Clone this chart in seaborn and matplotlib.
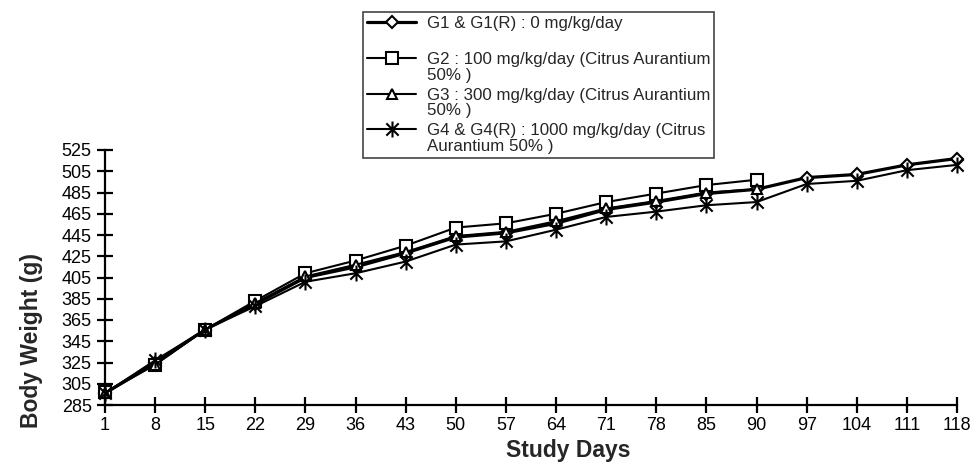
import numpy as np
import pandas as pd
import seaborn as sns
import matplotlib.pyplot as plt
from matplotlib.path import Path

# dados
days = [1, 8, 15, 22, 29, 36, 43, 50, 57, 64, 71, 78, 85, 90, 97, 104, 111, 118]
g1 = [296, 325, 356, 380, 405, 415, 428, 443, 447, 456, 469, 476, 484, 488, 499, 502, 511, 517]
g2 = [297, 323, 356, 383, 409, 421, 435, 452, 456, 465, 476, 484, 492, 497]
g3 = [296, 323, 356, 381, 406, 417, 429, 444, 448, 458, 470, 477, 485, 488]
g4 = [296, 327, 356, 378, 401, 409, 420, 436, 439, 450, 462, 467, 473, 476, 493, 496, 506, 511]

labels = ['G1 & G1(R) : 0 mg/kg/day\n ',
          'G2 : 100 mg/kg/day (Citrus Aurantium\n50% )',
          'G3 : 300 mg/kg/day (Citrus Aurantium\n50% )',
          'G4 & G4(R) : 1000 mg/kg/day (Citrus\nAurantium 50% )']
series = [g1, g2, g3, g4]

sns.set_theme(style='white')
plt.rcParams['font.family'] = ['Liberation Sans', 'DejaVu Sans']

# marcador estrela do Excel (X com traco vertical)
star = Path([(-1, -1), (1, 1), (-1, 1), (1, -1), (0, -1.3), (0, 1.3)],
            [Path.MOVETO, Path.LINETO, Path.MOVETO, Path.LINETO, Path.MOVETO, Path.LINETO])

styles = [
    dict(marker='D', markersize=6.5, markerfacecolor='white', linewidth=2.3),
    dict(marker='s', markersize=8.5, markerfacecolor='white', linewidth=1.5),
    dict(marker='^', markersize=7, markerfacecolor='white', linewidth=1.5),
    dict(marker=star, markersize=11.5, markerfacecolor='none', linewidth=1.5),
]

fig = plt.figure(figsize=(9.74, 4.62), dpi=100)
ax = fig.add_axes([105 / 974, 1 - 405 / 462, (957 - 105) / 974, (405 - 150) / 462])

for vals, lab, st in zip(series, labels, styles):
    df = pd.DataFrame({'pos': np.arange(len(vals)), 'peso': vals})
    sns.lineplot(data=df, x='pos', y='peso', ax=ax, color='black', label=lab,
                 markeredgecolor='black', markeredgewidth=1.5, clip_on=False, **st)

ax.set_xlim(0, len(days) - 1)
ax.set_ylim(285, 525)
ax.set_xticks(np.arange(len(days)))
ax.set_xticklabels(days)
ax.set_yticks(np.arange(285, 526, 20))
ax.tick_params(axis='both', direction='inout', length=11, width=1.6, labelsize=13,
               colors='black', left=True, bottom=True)
ax.tick_params(axis='y', pad=4)
for s in ['top', 'right']:
    ax.spines[s].set_visible(False)
for s in ['left', 'bottom']:
    ax.spines[s].set_color('black')
    ax.spines[s].set_linewidth(1.6)

ax.set_xlabel('Study Days', fontsize=16.5, fontweight='bold')
ax.set_ylabel('Body Weight (g)', fontsize=16.5, fontweight='bold')
ax.xaxis.set_label_coords((568 - 105) / 852, (405 - 439) / 255)
ax.yaxis.set_label_coords((43 - 105) / 852, (405 - 340) / 255)

leg = ax.legend(loc='upper left', bbox_to_anchor=(363 / 974, 1 - 12 / 462),
                bbox_transform=fig.transFigure, fontsize=12.2, frameon=True,
                fancybox=False, edgecolor='#444444', framealpha=1,
                borderpad=0.25, labelspacing=0.3, handlelength=2.9,
                handletextpad=0.6, borderaxespad=0)
leg.get_frame().set_linewidth(1.2)
for t in leg.get_texts():
    t.set_linespacing(1.05)
for col in leg._legend_handle_box.get_children():
    for item in col.get_children():
        item.align = 'top'

fig.savefig('out.png', dpi=100)
